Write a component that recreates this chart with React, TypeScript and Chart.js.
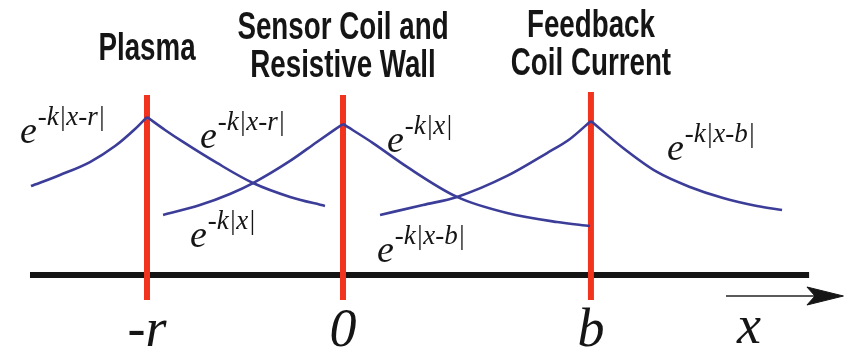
import { useEffect, useRef } from "react";
import { Chart, registerables } from "chart.js";

Chart.register(...registerables);

// Positions along x are in units of r: plasma at -r, sensor coil / wall at 0, feedback coil at b.
const B = 1.265;
const markerX = [-1, 0, B];
const markerTop = [1.139, 1.139, 1.158];
const markerBottom = -0.158;
const markerTicks = ["-r", "0", "b"];
const markerTitles = [["Plasma"], ["Sensor Coil and", "Resistive Wall"], ["Feedback", "Coil Current"]];

// Field profiles around each current sheet (x, amplitude)
const plasmaLeftX = [-1.592, -1.444, -1.291, -1.163, -1.061, -1.0];
const plasmaLeftY = [0.563, 0.633, 0.715, 0.816, 0.924, 1.0];
const plasmaRightX = [-1.0, -0.908, -0.816, -0.643, -0.459, -0.27, -0.092];
const plasmaRightY = [1.0, 0.918, 0.842, 0.709, 0.582, 0.494, 0.437];

const wallLeftX = [-0.918, -0.73, -0.577, -0.459, -0.27, -0.133, 0];
const wallLeftY = [0.38, 0.443, 0.513, 0.582, 0.722, 0.842, 0.956];
const wallRightX = [0, 0.153, 0.327, 0.582, 0.837, 1.092, 1.26];
const wallRightY = [0.956, 0.835, 0.684, 0.494, 0.392, 0.335, 0.31];

const coilLeftX = [0.189, 0.408, 0.582, 0.837, 1.041, 1.158, 1.265];
const coilLeftY = [0.38, 0.443, 0.494, 0.627, 0.772, 0.861, 0.975];
const coilRightX = [1.265, 1.429, 1.602, 1.77, 1.939, 2.112, 2.24];
const coilRightY = [0.975, 0.804, 0.652, 0.557, 0.487, 0.437, 0.411];

// x axis line and direction arrow
const axisX = [-1.597, 2.378];
const arrowShaftX = [1.954, 2.43];
const arrowY = -0.133;
const arrowHeadX = [2.553, 2.367, 2.408, 2.367, 2.553];
const arrowHeadY = [-0.133, -0.076, -0.133, -0.19, -0.133];
const axisLabel = "x";
const axisLabelX = 2.071;

// Exponent labels: anchor of the base "e" (x, y) and its superscript
const expLabelX = [-1.648, -0.73, 0.224, 1.653, -0.781, 0.173];
const expLabelY = [0.835, 0.804, 0.778, 0.728, 0.177, 0.082];
const expLabelSup = ["-k|x-r|", "-k|x-r|", "-k|x|", "-k|x-b|", "-k|x|", "-k|x-b|"];

const BLUE = "#3b3d98";
const RED = "#f2331d";
const INK = "#151515";

const pts = (xs: number[], ys: number[]) => xs.map((x, i) => ({ x, y: ys[i] }));

const curve = (xs: number[], ys: number[]) => ({
  data: pts(xs, ys),
  borderColor: BLUE,
  borderWidth: 2.6,
  pointRadius: 0,
  cubicInterpolationMode: "monotone" as const,
  fill: false,
  order: 1,
});

const diagramText = {
  id: "diagramText",
  afterDatasetsDraw(chart: any) {
    const { ctx, chartArea } = chart;
    const xs = chart.scales.x;
    const ys = chart.scales.y;
    ctx.save();
    ctx.fillStyle = INK;
    ctx.textBaseline = "alphabetic";

    // Titles above each marker, set in a condensed bold sans
    const titleFirstBaseline = [60, 39, 37];
    ctx.font = 'bold 38px "Liberation Sans", Arial, sans-serif';
    ctx.textAlign = "center";
    markerX.forEach((mx, i) => {
      const px = xs.getPixelForValue(mx);
      markerTitles[i].forEach((line, j) => {
        ctx.save();
        ctx.translate(px, chartArea.top + titleFirstBaseline[i] + j * 38);
        ctx.scale(0.73, 1);
        ctx.fillText(line, 0, 0);
        ctx.restore();
      });
    });

    // Tick labels under the markers and the axis name
    ctx.font = 'italic 54px "Liberation Serif", "Times New Roman", serif';
    markerX.forEach((mx, i) => {
      ctx.fillText(markerTicks[i], xs.getPixelForValue(mx), chartArea.top + 346);
    });
    ctx.fillText(axisLabel, xs.getPixelForValue(axisLabelX), chartArea.top + 343);

    // e^{...} labels
    ctx.textAlign = "left";
    expLabelX.forEach((ex, i) => {
      const px = xs.getPixelForValue(ex);
      const py = ys.getPixelForValue(expLabelY[i]);
      ctx.font = 'italic 38px "Liberation Serif", "Times New Roman", serif';
      ctx.fillText("e", px, py);
      const w = ctx.measureText("e").width;
      ctx.font = 'italic 27px "Liberation Serif", "Times New Roman", serif';
      ctx.fillText(expLabelSup[i], px + w + 1, py - 18);
    });
    ctx.restore();
  },
};

export default function App() {
  const ref = useRef<HTMLCanvasElement | null>(null);

  useEffect(() => {
    if (!ref.current) return;
    const markers = markerX.map((mx, i) => ({
      data: [
        { x: mx, y: markerBottom },
        { x: mx, y: markerTop[i] },
      ],
      borderColor: RED,
      borderWidth: 6,
      pointRadius: 0,
      order: 3,
    }));

    const chart = new Chart(ref.current, {
      type: "line",
      data: {
        datasets: [
          {
            data: axisX.map((x) => ({ x, y: 0 })),
            borderColor: INK,
            borderWidth: 6,
            pointRadius: 0,
            order: 4,
          },
          ...markers,
          curve(plasmaLeftX, plasmaLeftY),
          curve(plasmaRightX, plasmaRightY),
          curve(wallLeftX, wallLeftY),
          curve(wallRightX, wallRightY),
          curve(coilLeftX, coilLeftY),
          curve(coilRightX, coilRightY),
          {
            data: arrowShaftX.map((x) => ({ x, y: arrowY })),
            borderColor: "#5a5a5a",
            borderWidth: 2,
            pointRadius: 0,
            order: 2,
          },
          {
            data: pts(arrowHeadX, arrowHeadY),
            borderColor: INK,
            backgroundColor: INK,
            borderWidth: 1,
            pointRadius: 0,
            fill: "shape",
            order: 1,
          },
        ] as any,
      },
      options: {
        responsive: false,
        animation: false,
        events: [],
        layout: { padding: 0 },
        plugins: { legend: { display: false }, tooltip: { enabled: false } },
        scales: {
          x: { type: "linear", min: -1.75, max: 2.5765, display: false },
          y: { type: "linear", min: -0.4684, max: 1.7405, display: false },
        },
      },
      plugins: [diagramText],
    });
    return () => chart.destroy();
  }, []);

  return (
    <div style={{ position: "absolute", left: 0, top: 0, width: 848, height: 349, background: "#fff" }}>
      <canvas ref={ref} width={848} height={349} />
    </div>
  );
}
